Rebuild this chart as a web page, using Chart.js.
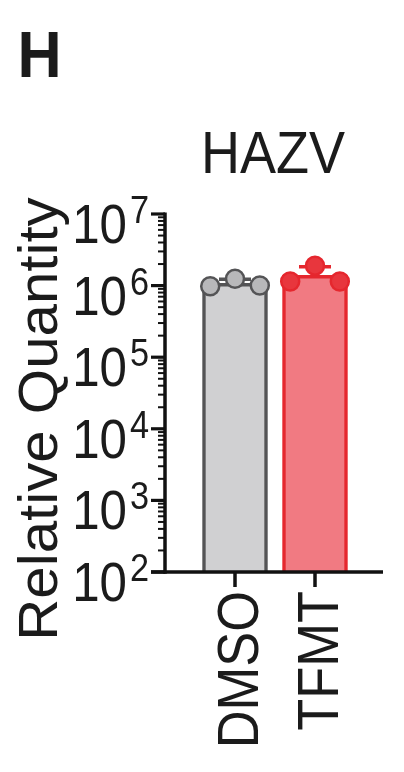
<!DOCTYPE html>
<html><head><meta charset="utf-8">
<script src="https://cdn.jsdelivr.net/npm/chart.js@4"></script>
<style>html,body{margin:0;padding:0;background:#fff}canvas{display:block}</style>
</head><body>
<canvas id="c" width="404" height="772"></canvas>
<script>
// ---- data ----
const panelLabel = 'H';
const chartTitle = 'HAZV';
const yAxisTitle = 'Relative Quantity';
const categories = ['DMSO', 'TFMT'];
const dmsoValues = [0.98e6, 1.25e6, 1.0e6];
const tfmtValues = [1.14e6, 1.9e6, 1.14e6];
const yTickBase = '10';
const yTickExponents = [2, 3, 4, 5, 6, 7];

// ---- styles ----
const groups = [dmsoValues, tfmtValues];
const barFill = ['#d0d0d2', '#f17a82'];
const barBorder = ['#545456', '#e5272e'];
const pointFill = ['#b8b8ba', '#e8363d'];
const pointBorder = ['#545456', '#e5272e'];
const jitter = [-0.31, 0, 0.31];
const FONT = '"Liberation Sans", Arial, sans-serif';
const INK = '#1b1b1b';

const mean = a => a.reduce((s, v) => s + v, 0) / a.length;
const sd = a => { const m = mean(a); return Math.sqrt(a.reduce((s, v) => s + (v - m) * (v - m), 0) / (a.length - 1)); };

const barData = categories.map((c, i) => ({ x: i, y: mean(groups[i]) }));
const pointData = [];
groups.forEach((vals, g) => vals.forEach((v, j) => pointData.push({ x: g + jitter[j], y: v, g })));

function txt(ctx, s, x, y, font, align, sx, rot) {
  ctx.save();
  ctx.translate(x, y);
  if (rot) ctx.rotate(rot);
  ctx.scale(sx, 1);
  ctx.font = font;
  ctx.textAlign = align;
  ctx.textBaseline = 'alphabetic';
  ctx.fillStyle = INK;
  ctx.fillText(s, 0, 0);
  ctx.restore();
}

const drawPlugin = {
  id: 'panelDecor',
  afterDatasetDraw(chart, args) {
    if (args.index !== 0) return;
    const ctx = chart.ctx, xs = chart.scales.x, ys = chart.scales.y;
    groups.forEach((vals, i) => {
      const m = mean(vals), s = sd(vals);
      const x = xs.getPixelForValue(i);
      const y0 = ys.getPixelForValue(m), y1 = ys.getPixelForValue(m + s);
      ctx.save();
      ctx.strokeStyle = barBorder[i];
      ctx.lineWidth = 3.5;
      ctx.beginPath();
      ctx.moveTo(x, y0); ctx.lineTo(x, y1);
      ctx.moveTo(x - 16, y1); ctx.lineTo(x + 16, y1);
      ctx.stroke();
      ctx.restore();
    });
  },
  afterDraw(chart) {
    const ctx = chart.ctx, xs = chart.scales.x, ys = chart.scales.y, ca = chart.chartArea;
    ctx.save();
    ctx.strokeStyle = '#111';
    yTickExponents.forEach((e, k) => {
      if (k < yTickExponents.length - 1) {
        for (let m = 2; m <= 9; m++) {
          const y = ys.getPixelForValue(m * Math.pow(10, e));
          ctx.lineWidth = 2;
          ctx.beginPath(); ctx.moveTo(ca.left - 7, y); ctx.lineTo(ca.left, y); ctx.stroke();
        }
      }
      const y = ys.getPixelForValue(Math.pow(10, e));
      ctx.lineWidth = 3.2;
      ctx.beginPath(); ctx.moveTo(ca.left - 14, y); ctx.lineTo(ca.left, y); ctx.stroke();
      txt(ctx, yTickBase, ca.left - 38, y + 29, '56px ' + FONT, 'right', 0.88, 0);
      txt(ctx, String(e), ca.left - 16, y + 9, '39px ' + FONT, 'right', 0.88, 0);
    });
    ctx.lineWidth = 3.5;
    ctx.beginPath(); ctx.moveTo(ca.left, ca.top - 1.5); ctx.lineTo(ca.left, ca.bottom + 1.75); ctx.stroke();
    ctx.beginPath(); ctx.moveTo(ca.left - 14, ca.bottom); ctx.lineTo(ca.right, ca.bottom); ctx.stroke();
    categories.forEach((c, i) => {
      const x = xs.getPixelForValue(i);
      ctx.lineWidth = 3.5;
      ctx.beginPath(); ctx.moveTo(x, ca.bottom); ctx.lineTo(x, ca.bottom + 15); ctx.stroke();
      txt(ctx, c, x + 23, ca.bottom + 19, '57px ' + FONT, 'right', 0.92, -Math.PI / 2);
    });
    ctx.restore();
    txt(ctx, panelLabel, 17.5, 77, 'bold 65px ' + FONT, 'left', 0.94, 0);
    txt(ctx, chartTitle, (ca.left + ca.right) / 2 - 1, 173, '60px ' + FONT, 'center', 0.9, 0);
    txt(ctx, yAxisTitle, 57, 419, '56px ' + FONT, 'center', 1.04, -Math.PI / 2);
  }
};

new Chart(document.getElementById('c'), {
  type: 'bar',
  data: {
    datasets: [
      {
        type: 'bar', data: barData,
        backgroundColor: barFill, borderColor: barBorder,
        borderWidth: 3.5, barThickness: 65, order: 2
      },
      {
        type: 'scatter', data: pointData,
        pointRadius: 9, pointBorderWidth: 2.5,
        pointBackgroundColor: c => pointFill[c.raw ? c.raw.g : 0],
        pointBorderColor: c => pointBorder[c.raw ? c.raw.g : 0],
        order: 1
      }
    ]
  },
  options: {
    responsive: false, animation: false, devicePixelRatio: 1,
    layout: { padding: { left: 165, top: 214, right: 21, bottom: 200 } },
    plugins: { legend: { display: false }, tooltip: { enabled: false }, title: { display: false } },
    scales: {
      x: { type: 'linear', min: -0.875, max: 1.85, offset: false, display: false },
      y: { type: 'logarithmic', min: 100, max: 1e7, display: false }
    }
  },
  plugins: [drawPlugin]
});
</script>
</body></html>
